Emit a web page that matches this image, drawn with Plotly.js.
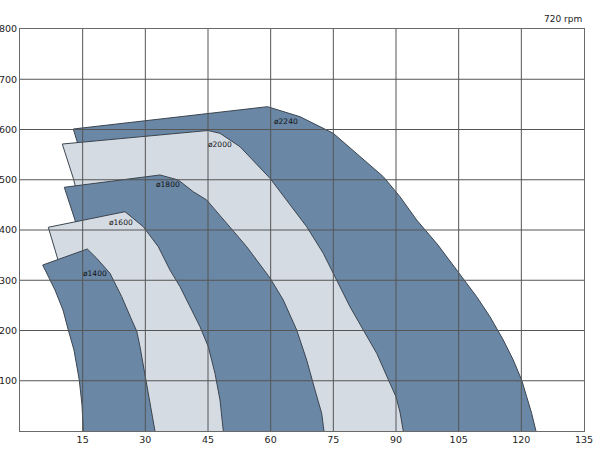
<!DOCTYPE html>
<html>
<head>
<meta charset="utf-8">
<script src="https://cdn.plot.ly/plotly-3.0.1.min.js"></script>
<style>html,body{margin:0;padding:0;background:#fff;}#chart{width:600px;height:450px;}</style>
</head>
<body>
<div id="chart"></div>
<script>
// Category / series data (flow on x, head on y)
const sizes = ["ø2240", "ø2000", "ø1800", "ø1600", "ø1400"];

const d2240_x = [38.3, 31.11, 21.54, 13.81, 12.76, 59.24, 67.02, 74.99, 81.38, 86.96, 90.95, 94.95, 100.05, 104.84, 109.31, 112.49, 115.68, 118.07, 120.08, 121.28, 122.47, 123.5];
const d2240_y = [0, 141.3, 360.2, 574.5, 601, 645.4, 625.5, 592.4, 545.9, 506.1, 466.3, 419.9, 370.1, 316.4, 267.3, 227.5, 181.1, 141.3, 101.5, 68.3, 35.2, 0];

const d2000_x = [31.11, 26.33, 19.15, 12.76, 10.12, 45.0, 47.87, 52.66, 59.84, 63.83, 68.62, 72.59, 75.8, 78.98, 82.17, 85.38, 88.56, 89.99, 90.95, 91.74];
const d2000_y = [0, 141.3, 300.5, 502.9, 571.1, 598, 592.4, 565.8, 502.9, 459.7, 406.6, 353.6, 300.5, 247.4, 201, 154.6, 94.9, 68.3, 37.8, 0];

const d1800_x = [23.93, 21.54, 17.95, 13.16, 10.6, 33.51, 37.89, 41.48, 44.69, 49.47, 54.26, 59.84, 63.02, 66.23, 68.62, 70.61, 72.21, 72.76];
const d1800_y = [0, 141.3, 260.7, 419.9, 485, 509.5, 499.5, 476.2, 459.7, 413.3, 366.8, 304.5, 260.7, 201, 141.3, 81.6, 35.2, 0];

const d1600_x = [16.75, 14.84, 11.97, 8.86, 6.77, 25.13, 29.51, 33.1, 35.9, 38.3, 40.69, 43.08, 45.07, 46.67, 47.87, 48.66];
const d1600_y = [0, 141.3, 260.7, 350.2, 405.4, 436.4, 406.6, 366.8, 320.4, 287.2, 247.4, 207.6, 167.8, 114.8, 61.7, 0];

const d1400_x = [15.15, 14.84, 14.19, 12.92, 11.56, 10.29, 8.38, 5.43, 16.11, 18.36, 21.54, 24.34, 26.74, 27.93, 28.72, 30.16, 31.11, 32.31];
const d1400_y = [0, 51.7, 101.5, 161.2, 201, 240.8, 280.6, 330.3, 362.2, 343.7, 313.8, 267.3, 220.9, 199, 167.8, 100, 51.7, 0];

// label anchor positions for each size
const label_x = [63.7, 47.9, 35.4, 24.2, 17.95];
const label_y = [615.5, 571, 489.6, 414, 314.4];

const xTicks = [15, 30, 45, 60, 75, 90, 105, 120, 135];
const yTicks = [100, 200, 300, 400, 500, 600, 700, 800];
const speedLabel = "720 rpm";

const DARK = "#6a87a5";
const LIGHT = "#d5dbe3";
const EDGE = "#3b4550";
const GRID = "#555555";

const series = [
  [d2240_x, d2240_y, DARK],
  [d2000_x, d2000_y, LIGHT],
  [d1800_x, d1800_y, DARK],
  [d1600_x, d1600_y, LIGHT],
  [d1400_x, d1400_y, DARK]
];

const traces = series.map((s, i) => ({
  type: "scatter",
  mode: "lines",
  x: s[0],
  y: s[1],
  fill: "toself",
  fillcolor: s[2],
  line: {color: EDGE, width: 1},
  name: sizes[i],
  hoverinfo: "skip"
}));

const shapes = [];
xTicks.slice(0, -1).forEach(v => shapes.push({type: "line", layer: "above", xref: "x", yref: "paper", x0: v, x1: v, y0: 0, y1: 1, line: {color: GRID, width: 1}}));
yTicks.slice(0, -1).forEach(v => shapes.push({type: "line", layer: "above", xref: "paper", yref: "y", x0: 0, x1: 1, y0: v, y1: v, line: {color: GRID, width: 1}}));

const annotations = sizes.map((t, i) => ({
  x: label_x[i], y: label_y[i], xref: "x", yref: "y", text: t, showarrow: false,
  font: {family: "DejaVu Sans", size: 7.5, color: "#111"}
}));
annotations.push({
  xref: "paper", yref: "paper", x: 1.0, y: 1.0, xanchor: "right", yanchor: "bottom", yshift: 3,
  text: speedLabel, showarrow: false, font: {family: "DejaVu Sans", size: 9, color: "#222"}
});

const layout = {
  width: 600, height: 450,
  margin: {l: 20, r: 16, t: 29, b: 19, pad: 0},
  paper_bgcolor: "#fff", plot_bgcolor: "#fff",
  showlegend: false,
  xaxis: {
    range: [0, 135], tickvals: xTicks, ticktext: xTicks.map(String), showgrid: false, zeroline: false,
    showline: true, mirror: true, linecolor: "#6a6a6a", linewidth: 1, layer: "above traces",
    ticks: "", tickfont: {family: "DejaVu Sans", size: 9.5, color: "#222"}, fixedrange: true
  },
  yaxis: {
    range: [0, 800], tickvals: yTicks, ticktext: yTicks.map(String), showgrid: false, zeroline: false,
    showline: true, mirror: true, linecolor: "#6a6a6a", linewidth: 1, layer: "above traces",
    ticks: "", tickfont: {family: "DejaVu Sans", size: 9.5, color: "#222"}, fixedrange: true
  },
  shapes: shapes,
  annotations: annotations
};

Plotly.newPlot("chart", traces, layout, {displayModeBar: false, staticPlot: true});
</script>
</body>
</html>
